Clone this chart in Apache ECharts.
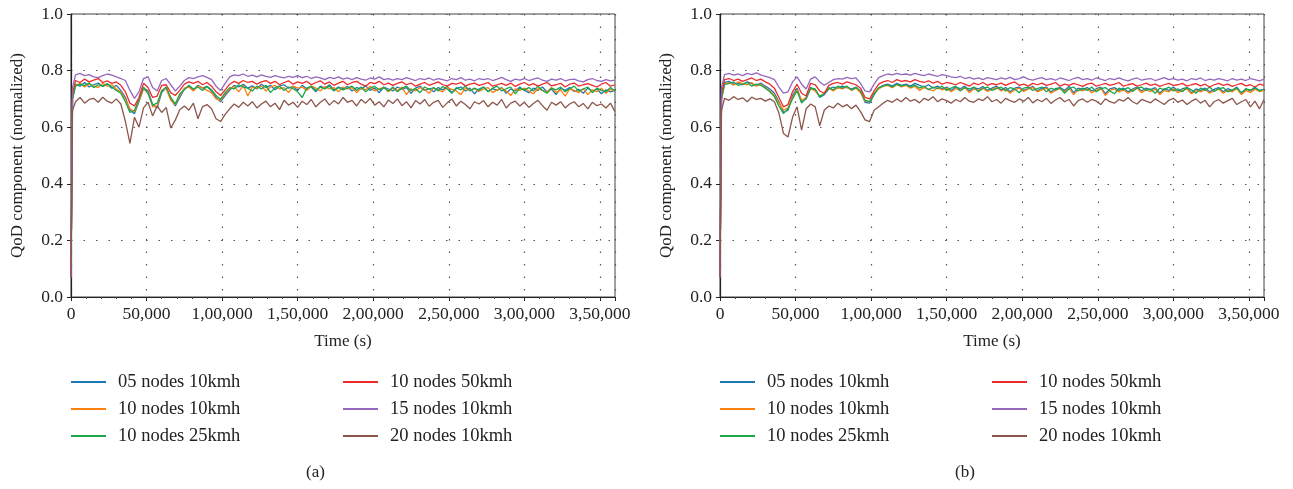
<!DOCTYPE html>
<html>
<head>
<meta charset="utf-8">
<script src="https://cdn.jsdelivr.net/npm/echarts@6/dist/echarts.min.js"></script>
<style>
  html, body { margin: 0; padding: 0; background: #fff; }
  #chart { width: 1293px; height: 489px; }
</style>
</head>
<body>
<div id="chart"></div>
<script>
// sampling instants (s): 0, 1000, then every 3000 s up to 360000
const timeStep = 3000;
const times = [0, 1000];
for (let t = timeStep; t <= 360000; t += timeStep) times.push(t);

const seriesNames = ['05 nodes 10kmh', '10 nodes 10kmh', '10 nodes 25kmh', '10 nodes 50kmh', '15 nodes 10kmh', '20 nodes 10kmh'];
const seriesColors = ['#1f77b4', '#ff7f0e', '#1aa84b', '#ec2b2b', '#9467bd', '#8c564b'];
const xTickLabels = ['0', '50,000', '1,00,000', '1,50,000', '2,00,000', '2,50,000', '3,00,000', '3,50,000'];
const panelLabels = ['(a)', '(b)'];

// ---- panel (a) ----
const a05n10 = [0.07, 0.70,
  0.752, 0.745, 0.758, 0.742, 0.75, 0.756, 0.744, 0.752, 0.738, 0.748,
  0.73, 0.705, 0.66, 0.648, 0.69, 0.738, 0.728, 0.68, 0.668, 0.722,
  0.74, 0.70, 0.675, 0.705, 0.735, 0.745, 0.732, 0.748, 0.738, 0.744,
  0.728, 0.705, 0.69, 0.712, 0.73, 0.748, 0.742, 0.752, 0.738, 0.746,
  0.735, 0.752, 0.74, 0.748, 0.732, 0.745, 0.75, 0.738, 0.744, 0.73,
  0.748, 0.736, 0.742, 0.725, 0.745, 0.738, 0.75, 0.732, 0.742, 0.736,
  0.744, 0.728, 0.74, 0.735, 0.746, 0.73, 0.738, 0.722, 0.742, 0.735,
  0.728, 0.742, 0.734, 0.74, 0.72, 0.738, 0.745, 0.73, 0.736, 0.725,
  0.74, 0.732, 0.744, 0.722, 0.736, 0.742, 0.728, 0.738, 0.718, 0.735,
  0.742, 0.726, 0.736, 0.73, 0.74, 0.72, 0.735, 0.728, 0.742, 0.73,
  0.722, 0.738, 0.73, 0.742, 0.725, 0.735, 0.715, 0.738, 0.73, 0.74,
  0.726, 0.734, 0.72, 0.738, 0.728, 0.735, 0.718, 0.732, 0.725, 0.73];
const a10n10 = [0.07, 0.70,
  0.748, 0.755, 0.742, 0.752, 0.746, 0.74, 0.755, 0.745, 0.75, 0.735,
  0.725, 0.698, 0.665, 0.655, 0.695, 0.735, 0.722, 0.672, 0.675, 0.73,
  0.736, 0.695, 0.68, 0.712, 0.738, 0.742, 0.728, 0.745, 0.74, 0.73,
  0.722, 0.70, 0.695, 0.718, 0.735, 0.744, 0.725, 0.748, 0.71, 0.742,
  0.738, 0.745, 0.728, 0.742, 0.748, 0.735, 0.74, 0.722, 0.745, 0.738,
  0.742, 0.73, 0.745, 0.738, 0.728, 0.744, 0.735, 0.74, 0.725, 0.742,
  0.735, 0.74, 0.722, 0.738, 0.732, 0.745, 0.728, 0.736, 0.74, 0.725,
  0.738, 0.73, 0.742, 0.715, 0.736, 0.728, 0.74, 0.733, 0.72, 0.738,
  0.732, 0.725, 0.74, 0.734, 0.728, 0.715, 0.738, 0.73, 0.736, 0.726,
  0.735, 0.74, 0.722, 0.732, 0.738, 0.728, 0.712, 0.735, 0.73, 0.738,
  0.728, 0.718, 0.736, 0.73, 0.725, 0.74, 0.722, 0.732, 0.71, 0.735,
  0.73, 0.722, 0.736, 0.715, 0.732, 0.726, 0.738, 0.72, 0.734, 0.728];
const a10n25 = [0.07, 0.70,
  0.745, 0.752, 0.748, 0.756, 0.74, 0.75, 0.745, 0.754, 0.742, 0.73,
  0.72, 0.69, 0.652, 0.66, 0.70, 0.742, 0.718, 0.678, 0.685, 0.728,
  0.742, 0.705, 0.682, 0.718, 0.732, 0.748, 0.735, 0.742, 0.73, 0.745,
  0.732, 0.712, 0.698, 0.722, 0.74, 0.735, 0.75, 0.742, 0.738, 0.728,
  0.745, 0.735, 0.748, 0.722, 0.74, 0.745, 0.73, 0.742, 0.736, 0.725,
  0.705, 0.738, 0.745, 0.73, 0.742, 0.735, 0.745, 0.728, 0.74, 0.732,
  0.738, 0.745, 0.73, 0.742, 0.725, 0.738, 0.744, 0.732, 0.74, 0.728,
  0.742, 0.725, 0.738, 0.745, 0.73, 0.736, 0.722, 0.742, 0.734, 0.74,
  0.728, 0.744, 0.735, 0.72, 0.74, 0.732, 0.745, 0.728, 0.738, 0.73,
  0.742, 0.725, 0.738, 0.745, 0.728, 0.736, 0.742, 0.718, 0.738, 0.732,
  0.74, 0.728, 0.745, 0.73, 0.72, 0.738, 0.732, 0.742, 0.725, 0.736,
  0.745, 0.728, 0.735, 0.742, 0.722, 0.738, 0.73, 0.725, 0.74, 0.728];
const a10n50 = [0.07, 0.72,
  0.765, 0.758, 0.77, 0.76, 0.766, 0.772, 0.758, 0.764, 0.755, 0.76,
  0.748, 0.725, 0.685, 0.675, 0.705, 0.755, 0.74, 0.705, 0.71, 0.748,
  0.75, 0.722, 0.712, 0.73, 0.752, 0.76, 0.755, 0.762, 0.75, 0.758,
  0.745, 0.725, 0.712, 0.732, 0.752, 0.762, 0.755, 0.765, 0.758, 0.762,
  0.752, 0.76, 0.765, 0.755, 0.762, 0.75, 0.758, 0.764, 0.752, 0.76,
  0.755, 0.762, 0.75, 0.758, 0.764, 0.752, 0.76, 0.748, 0.756, 0.762,
  0.75, 0.758, 0.762, 0.752, 0.745, 0.758, 0.754, 0.762, 0.75, 0.756,
  0.748, 0.755, 0.76, 0.75, 0.756, 0.745, 0.752, 0.758, 0.748, 0.754,
  0.76, 0.75, 0.745, 0.755, 0.752, 0.758, 0.746, 0.752, 0.756, 0.748,
  0.752, 0.758, 0.745, 0.75, 0.755, 0.748, 0.756, 0.744, 0.752, 0.758,
  0.748, 0.754, 0.745, 0.752, 0.758, 0.746, 0.75, 0.755, 0.742, 0.752,
  0.756, 0.745, 0.75, 0.754, 0.748, 0.742, 0.752, 0.758, 0.745, 0.75];
const a15n10 = [0.07, 0.74,
  0.785, 0.79, 0.782, 0.786, 0.778, 0.775, 0.782, 0.788, 0.784, 0.778,
  0.772, 0.765, 0.73, 0.702, 0.725, 0.772, 0.778, 0.74, 0.728, 0.765,
  0.772, 0.75, 0.728, 0.745, 0.765, 0.775, 0.772, 0.778, 0.782, 0.776,
  0.768, 0.745, 0.73, 0.755, 0.778, 0.785, 0.782, 0.788, 0.78, 0.784,
  0.778, 0.785, 0.78, 0.776, 0.782, 0.778, 0.774, 0.78, 0.776, 0.782,
  0.775, 0.78, 0.772, 0.778, 0.774, 0.768, 0.776, 0.772, 0.778, 0.77,
  0.774, 0.768, 0.775, 0.77, 0.766, 0.774, 0.77, 0.778, 0.768, 0.772,
  0.766, 0.772, 0.768, 0.775, 0.77, 0.765, 0.772, 0.768, 0.774, 0.766,
  0.772, 0.768, 0.764, 0.772, 0.768, 0.775, 0.766, 0.77, 0.764, 0.772,
  0.768, 0.772, 0.765, 0.77, 0.776, 0.768, 0.762, 0.77, 0.766, 0.772,
  0.765, 0.77, 0.774, 0.766, 0.762, 0.77, 0.766, 0.772, 0.764, 0.768,
  0.77, 0.764, 0.76, 0.768, 0.772, 0.765, 0.762, 0.768, 0.764, 0.766];
const a20n10 = [0.07, 0.66,
  0.69, 0.705, 0.685, 0.698, 0.702, 0.688, 0.706, 0.692, 0.685, 0.70,
  0.682, 0.62, 0.543, 0.635, 0.60, 0.668, 0.688, 0.64, 0.675, 0.652,
  0.67, 0.597, 0.625, 0.662, 0.675, 0.66, 0.685, 0.63, 0.672, 0.68,
  0.665, 0.63, 0.62, 0.645, 0.665, 0.682, 0.67, 0.688, 0.675, 0.69,
  0.668, 0.682, 0.692, 0.672, 0.685, 0.662, 0.695, 0.678, 0.688, 0.67,
  0.692, 0.68, 0.698, 0.672, 0.688, 0.70, 0.678, 0.694, 0.682, 0.705,
  0.688, 0.695, 0.675, 0.698, 0.685, 0.702, 0.678, 0.69, 0.672, 0.696,
  0.684, 0.70, 0.676, 0.69, 0.668, 0.694, 0.682, 0.698, 0.674, 0.688,
  0.695, 0.67, 0.686, 0.70, 0.675, 0.692, 0.68, 0.665, 0.69, 0.682,
  0.694, 0.672, 0.688, 0.678, 0.698, 0.668, 0.685, 0.692, 0.675, 0.688,
  0.67, 0.684, 0.695, 0.676, 0.66, 0.688, 0.678, 0.69, 0.668, 0.682,
  0.69, 0.672, 0.684, 0.665, 0.688, 0.676, 0.682, 0.668, 0.685, 0.655];

// ---- panel (b) ----
const b05n10 = [0.07, 0.70,
  0.758, 0.762, 0.752, 0.756, 0.75, 0.76, 0.754, 0.748, 0.756, 0.745,
  0.735, 0.72, 0.69, 0.652, 0.66, 0.712, 0.738, 0.69, 0.70, 0.74,
  0.732, 0.705, 0.715, 0.735, 0.742, 0.738, 0.745, 0.74, 0.735, 0.742,
  0.725, 0.688, 0.685, 0.715, 0.738, 0.748, 0.752, 0.745, 0.755, 0.748,
  0.752, 0.745, 0.755, 0.748, 0.742, 0.75, 0.738, 0.745, 0.735, 0.742,
  0.73, 0.742, 0.736, 0.745, 0.728, 0.74, 0.735, 0.744, 0.73, 0.738,
  0.745, 0.732, 0.74, 0.725, 0.738, 0.742, 0.73, 0.736, 0.744, 0.728,
  0.738, 0.742, 0.725, 0.736, 0.74, 0.73, 0.744, 0.722, 0.738, 0.734,
  0.74, 0.728, 0.736, 0.742, 0.718, 0.735, 0.74, 0.73, 0.738, 0.725,
  0.735, 0.742, 0.728, 0.738, 0.732, 0.74, 0.72, 0.736, 0.73, 0.742,
  0.728, 0.736, 0.74, 0.722, 0.735, 0.73, 0.738, 0.725, 0.734, 0.74,
  0.725, 0.736, 0.73, 0.742, 0.72, 0.735, 0.728, 0.738, 0.73, 0.734];
const b10n10 = [0.07, 0.70,
  0.752, 0.758, 0.748, 0.76, 0.754, 0.75, 0.758, 0.745, 0.752, 0.74,
  0.728, 0.712, 0.685, 0.66, 0.668, 0.705, 0.732, 0.695, 0.705, 0.735,
  0.728, 0.71, 0.72, 0.738, 0.728, 0.74, 0.735, 0.742, 0.73, 0.738,
  0.722, 0.692, 0.69, 0.72, 0.735, 0.745, 0.748, 0.74, 0.75, 0.742,
  0.748, 0.738, 0.745, 0.73, 0.74, 0.735, 0.728, 0.74, 0.732, 0.738,
  0.725, 0.736, 0.73, 0.74, 0.722, 0.735, 0.73, 0.738, 0.726, 0.734,
  0.74, 0.728, 0.735, 0.72, 0.732, 0.738, 0.726, 0.735, 0.74, 0.725,
  0.732, 0.738, 0.72, 0.73, 0.736, 0.725, 0.738, 0.715, 0.732, 0.728,
  0.736, 0.722, 0.73, 0.738, 0.712, 0.73, 0.735, 0.725, 0.732, 0.72,
  0.73, 0.738, 0.722, 0.732, 0.726, 0.735, 0.715, 0.73, 0.725, 0.736,
  0.722, 0.73, 0.735, 0.718, 0.73, 0.725, 0.733, 0.72, 0.728, 0.735,
  0.72, 0.73, 0.725, 0.736, 0.715, 0.73, 0.722, 0.734, 0.726, 0.73];
const b10n25 = [0.07, 0.70,
  0.75, 0.755, 0.76, 0.748, 0.752, 0.758, 0.745, 0.752, 0.748, 0.738,
  0.725, 0.708, 0.675, 0.648, 0.665, 0.70, 0.728, 0.685, 0.702, 0.738,
  0.735, 0.708, 0.718, 0.74, 0.732, 0.745, 0.738, 0.745, 0.732, 0.74,
  0.728, 0.695, 0.69, 0.718, 0.74, 0.745, 0.75, 0.742, 0.752, 0.745,
  0.75, 0.742, 0.748, 0.738, 0.745, 0.732, 0.742, 0.736, 0.745, 0.73,
  0.738, 0.745, 0.728, 0.74, 0.735, 0.742, 0.725, 0.738, 0.742, 0.73,
  0.736, 0.742, 0.728, 0.74, 0.735, 0.722, 0.738, 0.742, 0.73, 0.736,
  0.742, 0.725, 0.738, 0.732, 0.74, 0.72, 0.736, 0.742, 0.728, 0.738,
  0.73, 0.742, 0.725, 0.736, 0.74, 0.728, 0.718, 0.738, 0.732, 0.74,
  0.726, 0.738, 0.742, 0.73, 0.735, 0.72, 0.738, 0.732, 0.742, 0.728,
  0.736, 0.725, 0.74, 0.732, 0.72, 0.738, 0.73, 0.742, 0.726, 0.735,
  0.74, 0.725, 0.732, 0.738, 0.722, 0.736, 0.73, 0.742, 0.728, 0.735];
const b10n50 = [0.07, 0.72,
  0.768, 0.772, 0.765, 0.77, 0.762, 0.768, 0.774, 0.765, 0.77, 0.76,
  0.752, 0.738, 0.705, 0.672, 0.68, 0.725, 0.752, 0.72, 0.71, 0.755,
  0.75, 0.728, 0.72, 0.748, 0.755, 0.758, 0.752, 0.76, 0.755, 0.75,
  0.738, 0.705, 0.70, 0.728, 0.752, 0.76, 0.765, 0.758, 0.768, 0.762,
  0.765, 0.76, 0.768, 0.762, 0.758, 0.764, 0.756, 0.762, 0.752, 0.758,
  0.755, 0.75, 0.758, 0.752, 0.745, 0.756, 0.75, 0.758, 0.748, 0.754,
  0.75, 0.756, 0.748, 0.755, 0.76, 0.748, 0.752, 0.745, 0.755, 0.75,
  0.756, 0.748, 0.752, 0.758, 0.745, 0.752, 0.748, 0.755, 0.75, 0.744,
  0.752, 0.756, 0.745, 0.75, 0.755, 0.748, 0.752, 0.758, 0.745, 0.75,
  0.754, 0.745, 0.75, 0.756, 0.748, 0.752, 0.744, 0.75, 0.755, 0.748,
  0.75, 0.755, 0.745, 0.75, 0.754, 0.746, 0.752, 0.742, 0.75, 0.755,
  0.748, 0.752, 0.744, 0.75, 0.755, 0.746, 0.75, 0.742, 0.752, 0.748];
const b15n10 = [0.07, 0.74,
  0.786, 0.79, 0.784, 0.788, 0.782, 0.79, 0.786, 0.792, 0.785, 0.78,
  0.775, 0.768, 0.742, 0.72, 0.725, 0.76, 0.778, 0.752, 0.735, 0.77,
  0.778, 0.76, 0.748, 0.758, 0.768, 0.772, 0.77, 0.776, 0.772, 0.774,
  0.755, 0.728, 0.725, 0.752, 0.775, 0.782, 0.788, 0.785, 0.79, 0.786,
  0.788, 0.784, 0.79, 0.786, 0.782, 0.788, 0.784, 0.78, 0.786, 0.782,
  0.778, 0.775, 0.78, 0.772, 0.776, 0.77, 0.774, 0.768, 0.775, 0.772,
  0.768, 0.774, 0.77, 0.776, 0.768, 0.772, 0.778, 0.77, 0.766, 0.772,
  0.775, 0.768, 0.772, 0.766, 0.774, 0.77, 0.765, 0.772, 0.776, 0.768,
  0.772, 0.766, 0.774, 0.77, 0.765, 0.772, 0.768, 0.774, 0.768, 0.764,
  0.77, 0.774, 0.766, 0.77, 0.772, 0.765, 0.77, 0.775, 0.768, 0.772,
  0.766, 0.77, 0.764, 0.772, 0.768, 0.774, 0.765, 0.77, 0.766, 0.772,
  0.768, 0.764, 0.772, 0.766, 0.77, 0.765, 0.772, 0.768, 0.764, 0.77];
const b20n10 = [0.07, 0.66,
  0.702, 0.695, 0.708, 0.698, 0.704, 0.69, 0.706, 0.698, 0.702, 0.692,
  0.70, 0.69, 0.65, 0.578, 0.565, 0.635, 0.672, 0.59, 0.665, 0.682,
  0.672, 0.605, 0.66, 0.675, 0.668, 0.685, 0.672, 0.68, 0.665, 0.678,
  0.655, 0.626, 0.62, 0.66, 0.672, 0.685, 0.695, 0.688, 0.70, 0.69,
  0.705, 0.692, 0.698, 0.686, 0.702, 0.695, 0.708, 0.69, 0.70, 0.694,
  0.685, 0.698, 0.69, 0.705, 0.692, 0.688, 0.70, 0.694, 0.708, 0.69,
  0.698, 0.685, 0.702, 0.694, 0.688, 0.70, 0.692, 0.705, 0.686, 0.698,
  0.69, 0.702, 0.684, 0.696, 0.705, 0.69, 0.698, 0.675, 0.694, 0.70,
  0.688, 0.698, 0.692, 0.68, 0.70, 0.69, 0.685, 0.698, 0.692, 0.705,
  0.69, 0.682, 0.698, 0.692, 0.686, 0.70, 0.69, 0.68, 0.695, 0.702,
  0.688, 0.696, 0.68, 0.692, 0.70, 0.685, 0.695, 0.672, 0.69, 0.698,
  0.685, 0.694, 0.702, 0.68, 0.69, 0.698, 0.672, 0.692, 0.665, 0.698];

const panelValues = [
  [a05n10, a10n10, a10n25, a10n50, a15n10, a20n10],
  [b05n10, b10n10, b10n25, b10n50, b15n10, b20n10]
];

const FONT = 'Liberation Serif';
const gridLeft = [71, 720];

const myChart = echarts.init(document.getElementById('chart'));

const grids = [], xAxes = [], yAxes = [], series = [], legends = [], graphics = [];
panelValues.forEach(function (vals, p) {
  grids.push({
    left: gridLeft[p], top: 14, width: 544, height: 283,
    show: true, borderColor: '#444', borderWidth: 1, containLabel: false
  });
  xAxes.push({
    type: 'value', gridIndex: p, min: 0, max: 360000, interval: 50000,
    name: 'Time (s)', nameLocation: 'middle', nameGap: 36,
    nameTextStyle: { fontFamily: FONT, fontSize: 17, color: '#222' },
    axisLine: { lineStyle: { color: '#222', width: 1.2 } },
    axisTick: { show: true, length: 4, lineStyle: { color: '#222' } },
    minorTick: { show: true, splitNumber: 5, length: 2, lineStyle: { color: '#444' } },
    axisLabel: {
      fontFamily: FONT, fontSize: 17.5, color: '#222', margin: 8,
      formatter: function (v) {
        return v % 50000 === 0 ? xTickLabels[v / 50000] : '';
      }
    },
    splitLine: { show: true, lineStyle: { color: '#555', type: [1.5, 11], width: 1.2 } }
  });
  yAxes.push({
    type: 'value', gridIndex: p, min: 0, max: 1, interval: 0.2,
    name: 'QoD component (normalized)', nameLocation: 'middle', nameGap: 45,
    nameTextStyle: { fontFamily: FONT, fontSize: 17, color: '#222' },
    axisLine: { show: true, lineStyle: { color: '#222', width: 1.2 } },
    axisTick: { show: true, length: 4, lineStyle: { color: '#222' } },
    axisLabel: {
      fontFamily: FONT, fontSize: 17.5, color: '#222', margin: 8,
      formatter: function (v) { return v.toFixed(1); }
    },
    splitLine: { show: true, lineStyle: { color: '#555', type: [1.5, 11], width: 1.2 } }
  });
  vals.forEach(function (arr, s) {
    series.push({
      name: seriesNames[s],
      type: 'line',
      xAxisIndex: p, yAxisIndex: p,
      showSymbol: false,
      color: seriesColors[s],
      lineStyle: { width: 1.3 },
      data: times.map(function (t, i) { return [t, arr[i]]; })
    });
  });
  [0, 1].forEach(function (col) {
    legends.push({
      orient: 'vertical',
      left: gridLeft[p] + col * 272,
      top: 372,
      padding: 0,
      itemWidth: 35, itemHeight: 2, itemGap: 7,
      icon: 'rect',
      selectedMode: false,
      data: seriesNames.slice(col * 3, col * 3 + 3),
      textStyle: { fontFamily: FONT, fontSize: 18.5, color: '#222', lineHeight: 20, padding: [0, 0, 0, 7] }
    });
  });
  graphics.push({
    type: 'text',
    left: gridLeft[p] + 235, top: 464,
    style: { text: panelLabels[p], font: '17px "' + FONT + '"', fill: '#222' }
  });
});

const option = {
  backgroundColor: '#fff',
  animation: false,
  grid: grids,
  xAxis: xAxes,
  yAxis: yAxes,
  legend: legends,
  graphic: graphics,
  series: series
};
myChart.setOption(option);
</script>
</body>
</html>
